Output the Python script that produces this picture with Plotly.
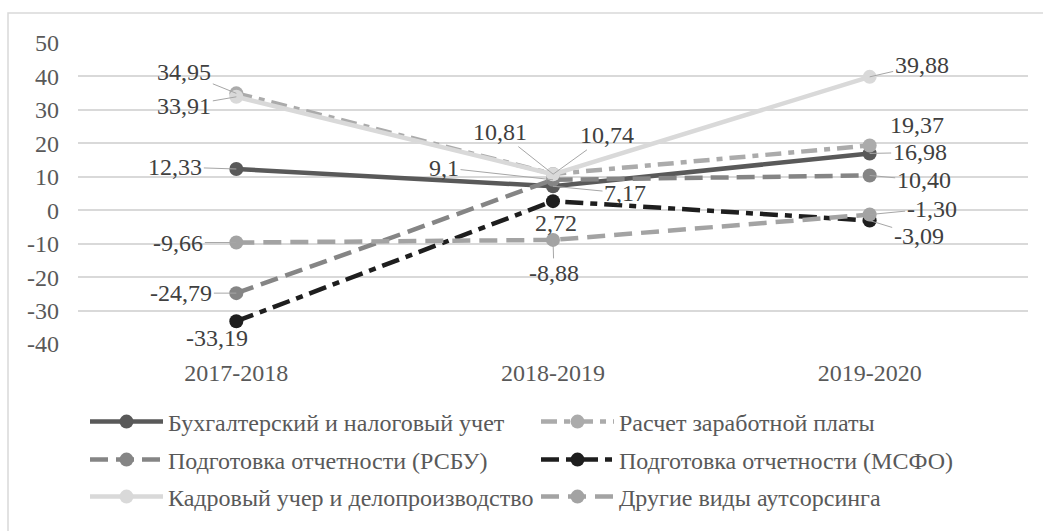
import plotly.graph_objects as go

periods = ["2017-2018", "2018-2019", "2019-2020"]

names = [
    "Бухгалтерский и налоговый учет",
    "Расчет заработной платы",
    "Подготовка отчетности (РСБУ)",
    "Подготовка отчетности (МСФО)",
    "Кадровый учер и делопроизводство",
    "Другие виды аутсорсинга",
]

buh = [12.33, 7.17, 16.98]
zp = [34.95, 10.81, 19.37]
rsbu = [-24.79, 9.10, 10.40]
msfo = [-33.19, 2.72, -3.09]
kadr = [33.91, 10.74, 39.88]
other = [-9.66, -8.88, -1.30]

buh_lbl = ["12,33", "7,17", "16,98"]
zp_lbl = ["34,95", "10,81", "19,37"]
rsbu_lbl = ["-24,79", "9,1", "10,40"]
msfo_lbl = ["-33,19", "2,72", "-3,09"]
kadr_lbl = ["33,91", "10,74", "39,88"]
other_lbl = ["-9,66", "-8,88", "-1,30"]

y_ticks = [50, 40, 30, 20, 10, 0, -10, -20, -30, -40]
y_tick_labels = ["50", "40", "30", "20", "10", "0", "-10", "-20", "-30", "-40"]

series = [buh, zp, rsbu, msfo, kadr, other]
labels = [buh_lbl, zp_lbl, rsbu_lbl, msfo_lbl, kadr_lbl, other_lbl]

# styles
colors = ["#595959", "#ABABAB", "#858585", "#1E1E1E", "#D9D9D9", "#A3A3A3"]
dashes = ["solid", "16px,7px,6px,7px", "18px,8px", "18px,7px,7px,7px", "solid", "18px,9px"]
legend_ids = ["legend", "legend2", "legend3", "legend4", "legend5", "legend6"]

# label offsets (px) : (dx, dy, leader line)
offsets = [
    [(-61, -2, True), (72, 7, True), (50, -1, True)],
    [(-52, -21, True), (-53, -42, True), (47, -20, False)],
    [(-55, 0, True), (-109, -12, True), (54, 5, True)],
    [(-19, 17, False), (3, 22, False), (49, 15, True)],
    [(-52, 9, True), (54, -39, True), (52, -12, True)],
    [(-58, 0, True), (1, 33, True), (62, -6, True)],
]

FONT = "Liberation Serif, Times New Roman, serif"
FS = 24

fig = go.Figure()
for name, vals, col, dash, lg in zip(names, series, colors, dashes, legend_ids):
    fig.add_trace(go.Scatter(
        x=periods, y=vals, name=name, mode="lines+markers",
        line=dict(color=col, width=4.5, dash=dash),
        marker=dict(color=col, size=14, symbol="circle"),
        legend=lg,
    ))

annotations = []
for vals, lbls, offs in zip(series, labels, offsets):
    for p, v, t, (dx, dy, arrow) in zip(periods, vals, lbls, offs):
        a = dict(x=p, y=v, xref="x", yref="y", text=t,
                 font=dict(family=FONT, size=FS, color="#404040"))
        if arrow:
            a.update(showarrow=True, ax=dx, ay=dy, axref="pixel", ayref="pixel",
                     arrowhead=0, arrowwidth=1, arrowcolor="#A6A6A6", standoff=0)
        else:
            a.update(showarrow=False, xshift=dx, yshift=-dy)
        annotations.append(a)

L, R, T, B = 78, 15, 43, 187
W, H = 1043, 531
pw, ph = W - L - R, H - T - B


def px_x(px):
    return (px - L) / pw


def px_y(py):
    return (H - B - py) / ph


legend_common = dict(orientation="h", xanchor="left", yanchor="middle",
                     font=dict(family=FONT, size=FS, color="#595959"),
                     itemwidth=73, bgcolor="rgba(0,0,0,0)",
                     itemclick=False, itemdoubleclick=False)

col_x = [85, 536]
row_y = [422, 460, 497]
legend_layout = {}
for i, lg in enumerate(legend_ids):
    legend_layout[lg] = dict(x=px_x(col_x[i % 2]), y=px_y(row_y[i // 2]), **legend_common)

fig.update_layout(
    width=W, height=H,
    margin=dict(l=L, r=R, t=T, b=B, autoexpand=False),
    paper_bgcolor="white", plot_bgcolor="white",
    font=dict(family=FONT, size=FS, color="#595959"),
    showlegend=True,
    annotations=annotations,
    xaxis=dict(range=[-0.5, 2.5], showgrid=False, zeroline=False, showline=False,
               ticks="", ticklabelstandoff=12,
               tickfont=dict(family=FONT, size=FS, color="#595959")),
    yaxis=dict(range=[-40, 50], tickmode="array", tickvals=y_ticks, ticktext=y_tick_labels,
               showgrid=True, gridcolor="#D9D9D9",
               gridwidth=1.5, zeroline=False, showline=False, ticks="",
               ticklabelstandoff=18,
               tickfont=dict(family=FONT, size=FS, color="#595959")),
    shapes=[dict(type="rect", xref="paper", yref="paper",
                 x0=px_x(8), x1=px_x(1050), y0=px_y(540), y1=px_y(13),
                 line=dict(color="#D9D9D9", width=1.5), fillcolor="rgba(0,0,0,0)",
                 layer="below")],
    **legend_layout,
)

fig.write_html("out.html", config={"displayModeBar": False},
               post_script="document.body.style.margin='0';")
